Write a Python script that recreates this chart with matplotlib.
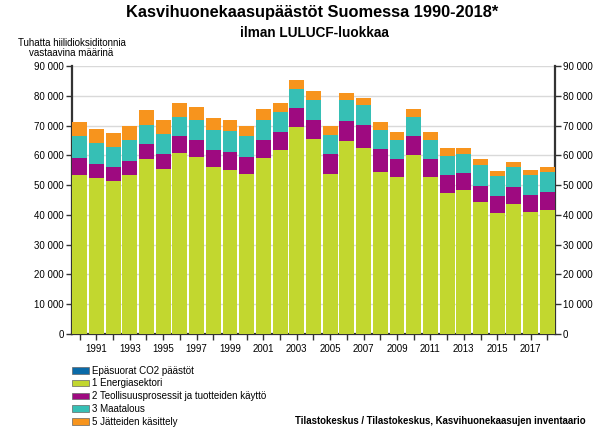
import matplotlib
matplotlib.use("Agg")
import matplotlib.pyplot as plt
from matplotlib.patches import Patch
from matplotlib.ticker import FuncFormatter, MultipleLocator

plt.rcParams['font.family'] = ['Liberation Sans', 'DejaVu Sans']

years = list(range(1990, 2019))
indirect = [0] * 29
energy = [53500, 52400, 51400, 53400, 58800, 55400, 60800, 59400, 56100, 55200,
          53800, 59100, 61700, 69400, 65500, 53800, 64700, 62600, 54300, 52700,
          60000, 52700, 47500, 48200, 44400, 40600, 43600, 40900, 41800]
industry = [5600, 4600, 4800, 4800, 5000, 4900, 5600, 5900, 5800, 6000,
            5700, 6200, 6100, 6400, 6500, 6500, 6900, 7600, 7800, 6100,
            6400, 6100, 6000, 5800, 5300, 5600, 5700, 5700, 6000]
agriculture = [7400, 7300, 6500, 7000, 6500, 7000, 6500, 6700, 6700, 6900,
               6900, 6400, 6800, 6500, 6600, 6500, 6900, 6600, 6500, 6500,
               6500, 6500, 6400, 6300, 7000, 7000, 6700, 6800, 6500]
waste = [4600, 4700, 4700, 4700, 4800, 4400, 4700, 4300, 3800, 3700,
         3500, 3800, 3000, 2900, 2900, 3000, 2500, 2600, 2600, 2400,
         2700, 2600, 2600, 2200, 2100, 1700, 1700, 1800, 1800]

series_labels = ["Epäsuorat CO2 päästöt", "1 Energiasektori",
                 "2 Teollisuusprosessit ja tuotteiden käyttö", "3 Maatalous",
                 "5 Jätteiden käsittely"]
colors = ["#0a6aa8", "#c2d72f", "#9e0a80", "#36bfb5", "#f7941d"]

fig = plt.figure(figsize=(5.96, 4.28), dpi=100)
ax = fig.add_axes([72/596, 1 - 334/428, 483/596, 268/428])

x = list(range(len(years)))
bottom = [0] * len(years)
for vals, col in zip([indirect, energy, industry, agriculture, waste], colors):
    ax.bar(x, vals, bottom=bottom, width=0.89, color=col, edgecolor='none', zorder=3)
    bottom = [b + v for b, v in zip(bottom, vals)]

ax.set_xlim(-0.46, 28.46)
ax.set_ylim(0, 90000)
ax.yaxis.set_major_locator(MultipleLocator(10000))
fmt = FuncFormatter(lambda v, p: f"{int(v):,}".replace(",", " "))
ax.yaxis.set_major_formatter(fmt)
ax.grid(axis='y', color='#d9d9d9', linewidth=1, zorder=0)
ax.set_axisbelow(True)

ax.set_xticks(x)
ax.set_xticklabels([str(y) if y % 2 == 1 else "" for y in years])
ax.tick_params(axis='x', length=4.3, width=1, color='#333333', labelsize=7, pad=3)
ax.tick_params(axis='y', length=4.3, width=1, color='#333333', labelsize=7, pad=1.5,
               left=True, right=True, labelleft=True, labelright=True)

for s in ['left', 'right', 'bottom']:
    ax.spines[s].set_color('#333333')
    ax.spines[s].set_linewidth(1.6)
ax.spines['top'].set_visible(False)

fig.text(312/596, 1 - 12/428, "Kasvihuonekaasupäästöt Suomessa 1990-2018*",
         ha='center', va='center', fontsize=11.8, fontweight='bold')
fig.text(314/596, 1 - 33/428, "ilman LULUCF-luokkaa",
         ha='center', va='center', fontsize=9.8, fontweight='bold')
fig.text(71.5/596, 1 - 47.5/428, "Tuhatta hiilidioksiditonnia\nvastaavina määrinä",
         ha='center', va='center', fontsize=7, linespacing=1.0)

handles = [Patch(facecolor=c, edgecolor='#666666', linewidth=0.5) for c in colors]
fig.legend(handles, series_labels, loc='upper left',
           bbox_to_anchor=(72/596, 1 - 365.5/428), frameon=False, fontsize=7,
           handlelength=1.75, handleheight=0.7, labelspacing=0.3,
           handletextpad=0.3, borderaxespad=0, borderpad=0)

fig.text(295/596, 1 - 421/428, "Tilastokeskus / Tilastokeskus, Kasvihuonekaasujen inventaario",
         ha='left', va='center', fontsize=6.9, fontweight='bold')

fig.savefig("out.png", dpi=100)
